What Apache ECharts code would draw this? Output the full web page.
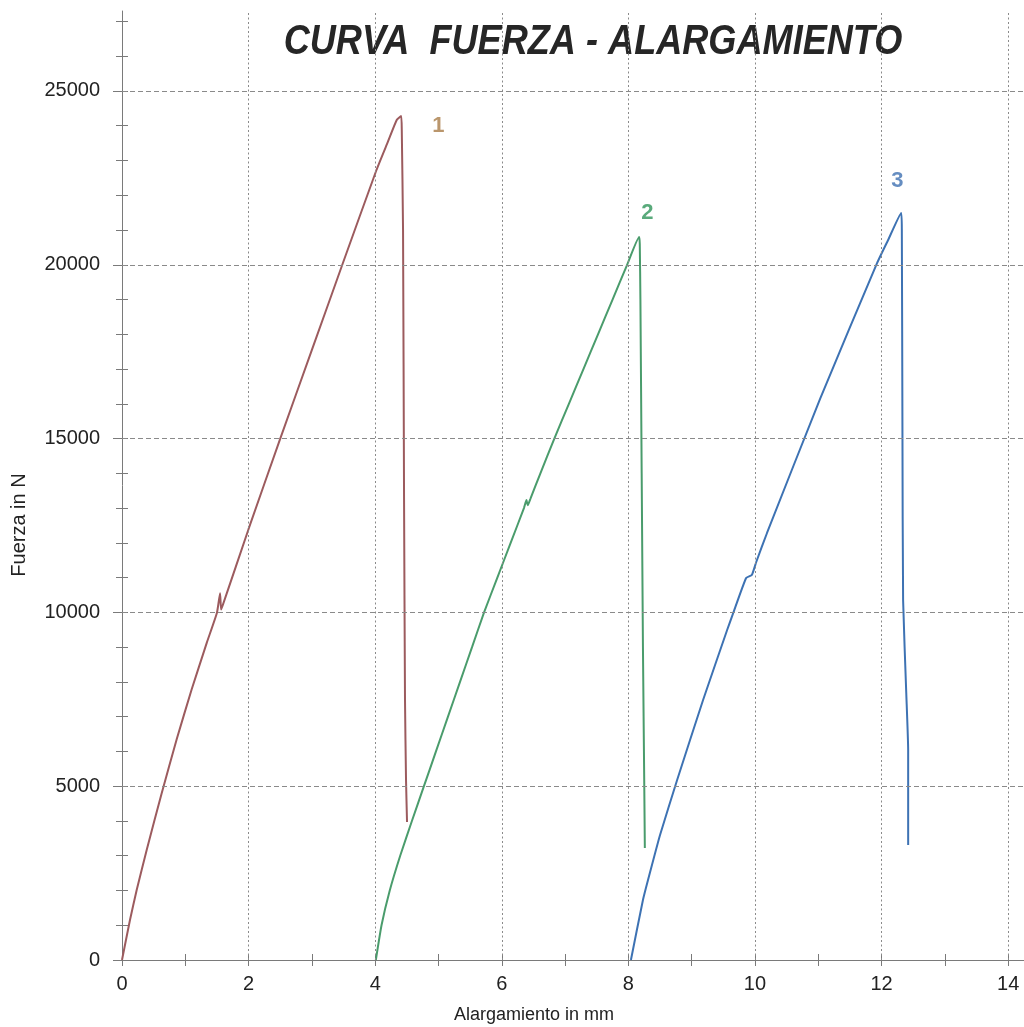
<!DOCTYPE html>
<html>
<head>
<meta charset="utf-8">
<title>Curva Fuerza - Alargamiento</title>
<script src="https://cdn.jsdelivr.net/npm/echarts@6/dist/echarts.min.js"></script>
<style>
  html, body { margin: 0; padding: 0; background: #ffffff; }
  #chart { width: 1024px; height: 1027px; }
</style>
</head>
<body>
<div id="chart"></div>
<script>
// Specimen 1 (elongation in mm, force in N)
const s1X = [0, 0.126, 0.232, 0.39, 0.627, 0.864, 1.10, 1.34, 1.50, 1.55, 1.565, 1.60, 2.0, 2.5, 3.0, 3.49, 4.02, 4.20, 4.34, 4.41, 4.42, 4.44, 4.456, 4.471, 4.487, 4.503];
const s1Y = [0, 1151, 2014, 3165, 4800, 6350, 7780, 9130, 9990, 10550, 10080, 10250, 12400, 15000, 17550, 20050, 22727, 23536, 24165, 24280, 23878, 21001, 13234, 7480, 5178, 3970];

// Specimen 2
const s2X = [4.01, 4.10, 4.23, 4.395, 4.58, 4.77, 4.96, 5.15, 5.34, 5.53, 5.72, 5.93, 6.14, 6.35, 6.39, 6.41, 6.45, 6.61, 6.83, 7.06, 7.29, 7.52, 7.75, 7.98, 8.17, 8.18, 8.19, 8.21, 8.23, 8.25, 8.26];
const s2Y = [0, 1000, 2000, 3000, 4000, 5000, 6000, 7000, 8000, 9000, 10000, 11000, 12000, 13000, 13230, 13080, 13260, 14000, 15000, 16000, 17000, 18000, 19000, 20000, 20800, 20600, 19000, 14000, 9000, 5200, 3222];

// Specimen 3
const s3X = [8.04, 8.23, 8.31, 8.50, 8.77, 9.18, 9.56, 9.65, 9.86, 9.95, 10.02, 10.19, 11.03, 11.93, 12.10, 12.31, 12.32, 12.33, 12.34, 12.39, 12.42, 12.42];
const s3Y = [0, 1726, 2301, 3596, 5178, 7480, 9494, 9950, 10990, 11076, 11450, 12284, 16150, 20052, 20699, 21490, 21000, 15000, 10357, 7680, 6041, 3308];

// Specimen numbers written next to each curve
const tagText = ['1', '2', '3'];
const tagX = [5.0, 8.3, 12.25];
const tagY = [24000, 21500, 22400];

// Axis ticks and labels
const xLabelValues = [0, 2, 4, 6, 8, 10, 12, 14];
const xTickValues = [0, 1, 2, 3, 4, 5, 6, 7, 8, 9, 10, 11, 12, 13, 14];
const yLabelValues = [0, 5000, 10000, 15000, 20000, 25000];
const yMinorValues = [];
for (let v = 0; v <= 27000; v += 1000) yMinorValues.push(v);

const curveColors = ['#9c5b5e', '#4a9c6c', '#3d72b3'];
const tagColors = ['#a97c47', '#2f955a', '#3f70b2'];

const pair = (xs, ys) => xs.map((x, i) => [x, ys[i]]);

const FONT = '"Liberation Sans", Arial, sans-serif';
const axisGray = '#7a7a7a';

const gridLines = [];
yLabelValues.slice(1).forEach(v => gridLines.push({
  yAxis: v,
  lineStyle: { type: [5, 3], color: '#8a8a8a', width: 1 }
}));
xLabelValues.slice(1).forEach(v => gridLines.push({
  xAxis: v,
  lineStyle: { type: [2, 2.5], color: '#8a8a8a', width: 1 }
}));

const chart = echarts.init(document.getElementById('chart'), null, { renderer: 'canvas' });

const xCommon = { type: 'value', min: 0, max: 14.25, position: 'bottom' };
const yCommon = { type: 'value', min: 0, max: 27300, position: 'left' };

const curve = (name, xs, ys, color) => ({
  name: name, type: 'line', z: 2, data: pair(xs, ys),
  showSymbol: false, symbol: 'none',
  smooth: 0.15,
  lineStyle: { color: color, width: 2 }
});

chart.setOption({
  animation: false,
  backgroundColor: '#ffffff',
  grid: { left: 122, top: 11, width: 902, height: 949 },
  xAxis: [
    Object.assign({}, xCommon, {
      axisLine: { show: true, onZero: false, lineStyle: { color: axisGray, width: 1 } },
      axisTick: { show: true, inside: false, length: 6, customValues: xTickValues, lineStyle: { color: axisGray } },
      axisLabel: { show: true, customValues: xLabelValues, margin: 14, fontSize: 20, fontFamily: FONT, color: '#222',
                   formatter: v => String(v) },
      splitLine: { show: false }
    }),
    Object.assign({}, xCommon, {
      axisLine: { show: false, onZero: false },
      axisTick: { show: true, inside: true, length: 6, customValues: xTickValues, lineStyle: { color: axisGray } },
      axisLabel: { show: false },
      splitLine: { show: false }
    })
  ],
  yAxis: [
    Object.assign({}, yCommon, {
      axisLine: { show: true, onZero: false, lineStyle: { color: axisGray, width: 1 } },
      axisTick: { show: true, inside: false, length: 9, customValues: yLabelValues, lineStyle: { color: axisGray } },
      axisLabel: { show: true, customValues: yLabelValues, margin: 22, fontSize: 20, fontFamily: FONT, color: '#222',
                   formatter: v => String(v) },
      splitLine: { show: false }
    }),
    Object.assign({}, yCommon, {
      axisLine: { show: false, onZero: false },
      axisTick: { show: true, inside: false, length: 6, customValues: yMinorValues, lineStyle: { color: axisGray } },
      axisLabel: { show: false },
      splitLine: { show: false }
    }),
    Object.assign({}, yCommon, {
      axisLine: { show: false, onZero: false },
      axisTick: { show: true, inside: true, length: 6, customValues: yMinorValues, lineStyle: { color: axisGray } },
      axisLabel: { show: false },
      splitLine: { show: false }
    })
  ],
  graphic: [
    {
      // condensed bold italic heading
      type: 'text',
      x: 593, y: 42,
      scaleX: 0.84,
      style: {
        text: 'CURVA  FUERZA - ALARGAMIENTO',
        font: 'italic bold 43px ' + FONT,
        fill: '#262626', align: 'center', verticalAlign: 'middle'
      }
    },
    {
      type: 'text',
      x: 534, y: 1015,
      style: { text: 'Alargamiento in mm', font: '18px ' + FONT, fill: '#222', align: 'center', verticalAlign: 'middle' }
    },
    {
      type: 'text',
      x: 19, y: 525,
      rotation: Math.PI / 2,
      style: { text: 'Fuerza in N', font: '20px ' + FONT, fill: '#222', align: 'center', verticalAlign: 'middle' }
    }
  ],
  series: [
    {
      name: 'tags',
      type: 'scatter',
      z: 1,
      silent: true,
      symbolSize: 0,
      data: tagText.map((t, i) => ({
        value: [tagX[i], tagY[i]],
        label: {
          show: true, position: 'inside', formatter: t,
          fontSize: 22, fontWeight: 'bold', fontFamily: FONT, color: tagColors[i],
          textBorderWidth: 0
        }
      })),
      markLine: {
        silent: true,
        symbol: ['none', 'none'],
        label: { show: false },
        emphasis: { disabled: true },
        data: gridLines
      }
    },
    curve('1', s1X, s1Y, curveColors[0]),
    curve('2', s2X, s2Y, curveColors[1]),
    curve('3', s3X, s3Y, curveColors[2])
  ]
});
</script>
</body>
</html>
